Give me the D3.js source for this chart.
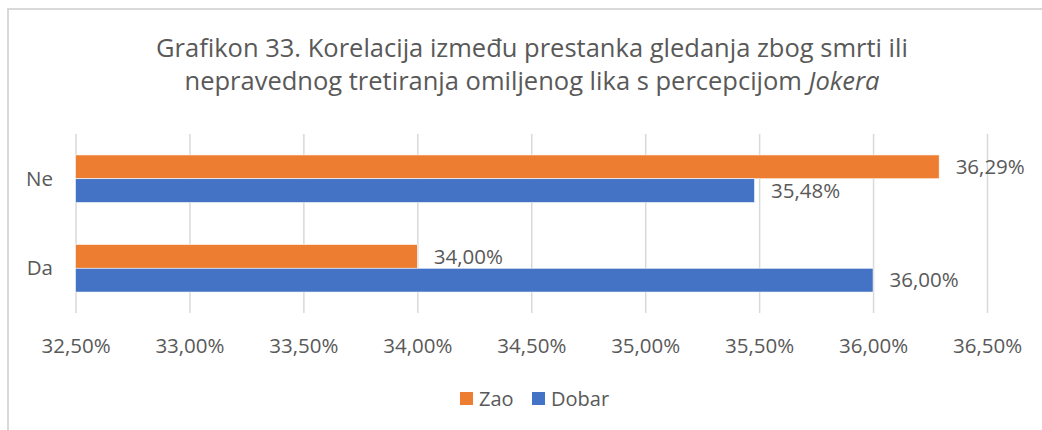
<!DOCTYPE html>
<html>
<head>
<meta charset="utf-8">
<script src="https://cdn.jsdelivr.net/npm/d3@7/dist/d3.min.js"></script>
<style>
  body { margin: 0; background: #fff; }
  text { font-family: "Open Sans", sans-serif; fill: #595959; }
</style>
</head>
<body>
<svg id="chart" width="1042" height="430"></svg>
<script>
// data
var categories = ["Ne", "Da"];
var seriesNames = ["Zao", "Dobar"];
var zaoValues = [36.29, 34.00];
var dobarValues = [35.48, 36.00];
var xTicks = [32.5, 33, 33.5, 34, 34.5, 35, 35.5, 36, 36.5];
var titleLines = ["Grafikon 33. Korelacija između prestanka gledanja zbog smrti ili",
                  "nepravednog tretiranja omiljenog lika s percepcijom "];
var titleItalic = "Jokera";

var colors = {"Zao": "#ED7D31", "Dobar": "#4472C4"};

var svg = d3.select("#chart");

// outer frame (only top and left show)
svg.append("path")
    .attr("d", "M8,430V9H1042")
    .style("fill", "none")
    .style("stroke", "#d9d9d9")
    .style("stroke-width", 2);

var locale = d3.formatLocale({decimal: ",", thousands: ".", grouping: [3], currency: ["", ""]});
var fmt = function (v) { return locale.format(".2f")(v) + "%"; };

var x = d3.scaleLinear().domain([32.5, 36.5]).range([75.5, 987]);
var y = d3.scaleBand().domain(categories).range([134, 313]);
var ySub = d3.scaleBand().domain(seriesNames).range([0, y.bandwidth()]).paddingOuter(0.88);

// gridlines + tick labels
var grid = svg.append("g").attr("transform", "translate(0,313)")
    .call(d3.axisBottom(x).tickValues(xTicks).tickSize(-179).tickFormat(fmt).tickPadding(25.5));
grid.select(".domain").remove();
grid.selectAll("line").style("stroke", "#d9d9d9").style("stroke-width", 1.5);
grid.selectAll("text").style("font-size", "20.5px").style("fill", "#595959")
    .style("font-family", "'Open Sans', sans-serif");

// category labels
svg.selectAll(".cat").data(categories).enter().append("text")
    .attr("class", "cat")
    .attr("x", 53)
    .attr("y", function (d) { return y(d) + y.bandwidth() / 2; })
    .attr("dy", "0.35em")
    .attr("text-anchor", "end")
    .style("font-size", "20.5px")
    .text(function (d) { return d; });

var rows = [];
categories.forEach(function (c, i) {
    rows.push({cat: c, s: "Zao", v: zaoValues[i]});
    rows.push({cat: c, s: "Dobar", v: dobarValues[i]});
});

svg.selectAll(".bar").data(rows).enter().append("rect")
    .attr("class", "bar")
    .attr("x", x(32.5))
    .attr("y", function (d) { return y(d.cat) + ySub(d.s); })
    .attr("width", function (d) { return x(d.v) - x(32.5); })
    .attr("height", ySub.bandwidth())
    .style("fill", function (d) { return colors[d.s]; })
    .style("stroke", "#fff")
    .style("stroke-width", 0.6);

svg.selectAll(".lbl").data(rows).enter().append("text")
    .attr("class", "lbl")
    .attr("x", function (d) { return x(d.v) + 16.5; })
    .attr("y", function (d) { return y(d.cat) + ySub(d.s) + ySub.bandwidth() / 2; })
    .attr("dy", "0.35em")
    .style("font-size", "20.5px")
    .text(function (d) { return fmt(d.v); });

// title
var title = svg.append("text")
    .attr("x", 532)
    .attr("y", 57)
    .attr("text-anchor", "middle")
    .style("font-size", "25.5px");
title.append("tspan").attr("x", 532).text(titleLines[0]);
title.append("tspan").attr("x", 532).attr("dy", 33).text(titleLines[1])
  .append("tspan").style("font-style", "italic").text(titleItalic);

// legend
var legendX = [460, 532];
var leg = svg.selectAll(".leg").data(seriesNames).enter().append("g")
    .attr("class", "leg")
    .attr("transform", function (d, i) { return "translate(" + legendX[i] + ",392)"; });
leg.append("rect").attr("width", 13).attr("height", 13)
    .style("fill", function (d) { return colors[d]; });
leg.append("text").attr("x", 19).attr("y", 6.5).attr("dy", "0.35em")
    .style("font-size", "20px")
    .text(function (d) { return d; });
</script>
</body>
</html>
